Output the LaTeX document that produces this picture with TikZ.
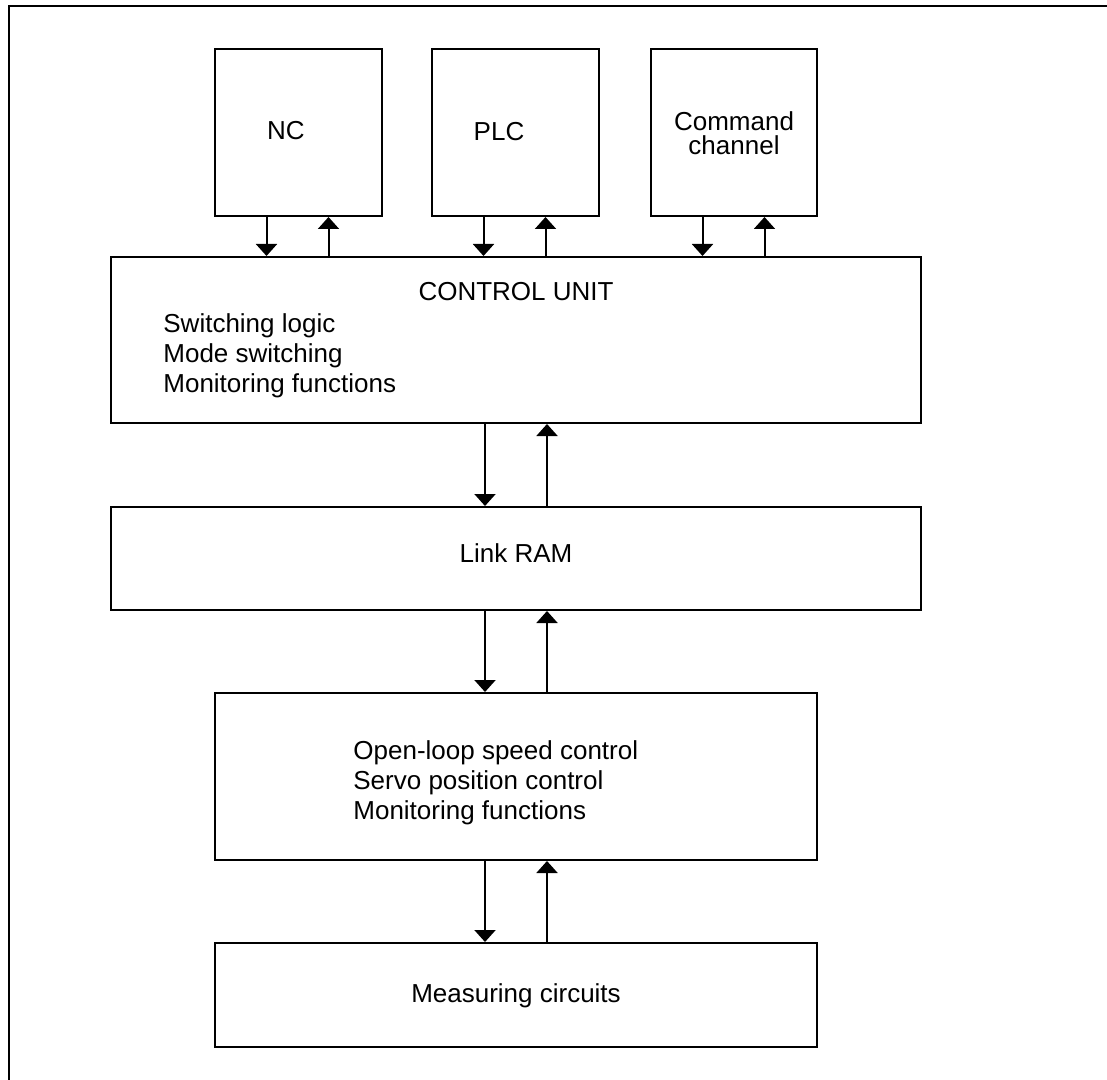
\documentclass[tikz,border=0pt]{standalone}
\usepackage{fontspec}
\setmainfont{Liberation Sans}
\usetikzlibrary{arrows.meta,positioning}

\tikzset{
  block/.style={draw, line width=1pt, inner sep=0pt},
  flow/.style={line width=1pt, -{Triangle[width=10.5pt,length=6pt]}}
}

\begin{document}
\begin{tikzpicture}[x=0.5pt, y=-0.5pt,
  every node/.style={font=\fontsize{13pt}{15pt}\selectfont, inner sep=0pt}]
  \path[use as bounding box, clip] (0,0) rectangle (1107,1080);
  \draw[line width=1pt] (8.5,6) rectangle (1130,1100);

  \node[block, minimum width=83.5pt, minimum height=83.5pt] (nc)    at (298.5,132.5) {};
  \node[block, minimum width=83.5pt, minimum height=83.5pt] (plc)   at (515.5,132.5) {};
  \node[block, minimum width=83pt,   minimum height=83.5pt] (cmd)   at (734,132.5)   {};
  \node[block, minimum width=405pt,  minimum height=83pt]   (cu)    at (516,340)     {};
  \node[block, minimum width=405pt,  minimum height=51.5pt] (ram)   at (516,558.5)   {};
  \node[block, minimum width=301pt,  minimum height=83.5pt] (servo) at (516,776.5)   {};
  \node[block, minimum width=301pt,  minimum height=52pt]   (meas)  at (516,995)     {};

  \node (nctxt)  at (286,131) {NC};
  \node (plctxt) at (499,132) {PLC};
  \node[align=center, font=\fontsize{13pt}{12pt}\selectfont] (cmdtxt) at (734,133) {Command\\channel};
  \node[anchor=base] (cutitle) at (516,301) {CONTROL UNIT};
  \node[anchor=west, align=left] (culist) at (163,356)
    {Switching logic\\Mode switching\\Monitoring functions};
  \node[anchor=base] (ramtxt) at (516,562) {Link RAM};
  \node[anchor=west, align=left] (servolist) at (353,783)
    {Open-loop speed control\\Servo position control\\Monitoring functions};
  \node[anchor=base] (meastxt) at (516,1002) {Measuring circuits};

  \path[flow]
    \foreach \b in {nc,plc,cmd} {
      ([xshift=26.25pt]\b.south west) edge ([xshift=26.25pt]\b.south west |- cu.north)
      ([xshift=57.25pt]\b.south west |- cu.north) edge ([xshift=57.25pt]\b.south west)
    };
  \path[flow]
    \foreach \u/\l in {cu/ram, ram/servo, servo/meas} {
      ([xshift=-15.5pt]\u.south) edge ([xshift=-15.5pt]\l.north)
      ([xshift=15.5pt]\l.north) edge ([xshift=15.5pt]\u.south)
    };
\end{tikzpicture}
\end{document}
